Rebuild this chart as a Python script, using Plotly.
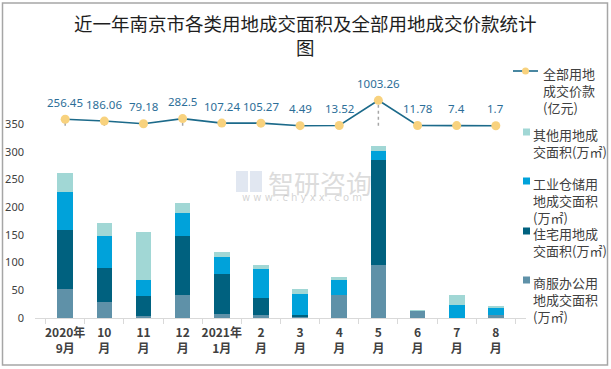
import plotly.graph_objects as go

# ---------------- data ----------------
months = ["2020年<br>9月", "10<br>月", "11<br>月", "12<br>月", "2021年<br>1月", "2<br>月",
          "3<br>月", "4<br>月", "5<br>月", "6<br>月", "7<br>月", "8<br>月"]
commercial = [52, 28.3, 3, 40.9, 6.6, 4.8, 1.8, 41.5, 95.6, 13, 0.5, 4.8]      # 商服办公用地
residential = [106, 61.3, 36, 106.4, 72.2, 30.7, 3.6, 0, 189.4, 0, 0, 0]       # 住宅用地
industrial = [68.5, 57.7, 29, 41.5, 30.7, 52.3, 37.3, 27, 16.2, 0, 23, 15]     # 工业仓储用地
other = [36, 23.5, 86.5, 18, 9, 7.2, 9, 5.4, 9, 1, 18, 2.4]                    # 其他用地
price = [256.45, 186.06, 79.18, 282.5, 107.24, 105.27, 4.49, 13.52, 1003.26, 11.78, 7.4, 1.7]
price_labels = ["256.45", "186.06", "79.18", "282.5", "107.24", "105.27", "4.49", "13.52",
                "1003.26", "11.78", "7.4", "1.7"]
y_ticks = [0, 50, 100, 150, 200, 250, 300, 350]

title_text = "近一年南京市各类用地成交面积及全部用地成交价款统计<br>图"
legend_names = ["全部用地<br>成交价款<br>(亿元)",
                "其他用地成<br>交面积(万㎡)",
                "工业仓储用<br>地成交面积<br>(万㎡)",
                "住宅用地成<br>交面积(万㎡)",
                "商服办公用<br>地成交面积<br>(万㎡)"]

# ---------------- styling ----------------
W, H = 611, 369
ML, MR, MT, MB = 35, 85, 70, 51
PW, PH = W - ML - MR, H - MT - MB
CJK = "Noto Sans CJK SC"

c_com = "#5F91A8"
c_res = "#00617F"
c_ind = "#00A2DA"
c_oth = "#A1D7D5"
c_line = "#1C6A8A"
c_mark = "#F8D27E"
c_lbl = "#2C6E98"
c_txt = "#404040"


def px_x(px):
    return (px - ML) / PW


def px_y(py):
    return (H - MB - py) / PH


fig = go.Figure()

for vals, col, nm in [(commercial, c_com, legend_names[4]),
                      (residential, c_res, legend_names[3]),
                      (industrial, c_ind, legend_names[2]),
                      (other, c_oth, legend_names[1])]:
    fig.add_trace(go.Bar(x=months, y=vals, marker=dict(color=col, line=dict(width=0)),
                         width=0.4, name=nm, showlegend=False, hoverinfo="y"))

# drop lines from each price point
dx, dy = [], []
for m, p in zip(months, price):
    dx += [m, m, None]
    dy += [0, p, None]
fig.add_trace(go.Scatter(x=dx, y=dy, yaxis="y2", mode="lines",
                         line=dict(color="#A6A6A6", width=1.5, dash="dot"),
                         showlegend=False, hoverinfo="skip"))

fig.add_trace(go.Scatter(x=months, y=price, yaxis="y2", mode="lines+markers",
                         line=dict(color=c_line, width=1.6),
                         marker=dict(color=c_mark, size=9, line=dict(width=0)),
                         name=legend_names[0], showlegend=False, cliponaxis=False))

annotations = []
for m, p, t in zip(months, price, price_labels):
    annotations.append(dict(x=m, y=p, xref="x", yref="y2", text=t, showarrow=False,
                            yshift=17, font=dict(family="Noto Sans, " + CJK, size=11.5, color=c_lbl)))

# title
annotations.append(dict(x=px_x(305), y=px_y(35), xref="paper", yref="paper", text=title_text,
                        showarrow=False, xanchor="center", yanchor="middle",
                        font=dict(family=CJK, size=18.5, color="#1E1E1E")))

# watermark
annotations.append(dict(x=px_x(266), y=px_y(182), xref="paper", yref="paper", text="智研咨询",
                        showarrow=False, xanchor="left", yanchor="middle",
                        font=dict(family=CJK, size=26, color="rgba(185,185,185,0.5)")))
annotations.append(dict(x=px_x(302), y=px_y(197), xref="paper", yref="paper",
                        text="w w w . c h y x x . c o m", showarrow=False,
                        xanchor="center", yanchor="middle",
                        font=dict(family="DejaVu Sans", size=10, color="rgba(175,175,175,0.55)")))

shapes = []
# watermark logo blocks
shapes.append(dict(type="rect", xref="paper", yref="paper", x0=px_x(236), x1=px_x(248),
                   y0=px_y(192), y1=px_y(171), fillcolor="rgba(170,185,215,0.35)", line=dict(width=0)))
shapes.append(dict(type="rect", xref="paper", yref="paper", x0=px_x(250), x1=px_x(262),
                   y0=px_y(192), y1=px_y(171), fillcolor="rgba(170,185,215,0.35)", line=dict(width=0)))

# manual legend
leg_font = dict(family=CJK, size=13, color=c_txt)
shapes.append(dict(type="line", xref="paper", yref="paper", x0=px_x(513), x1=px_x(538),
                   y0=px_y(71), y1=px_y(71), line=dict(color=c_line, width=1.6)))
shapes.append(dict(type="circle", xref="paper", yref="paper", x0=px_x(522), x1=px_x(529),
                   y0=px_y(74.5), y1=px_y(67.5), fillcolor=c_mark, line=dict(width=0)))
annotations.append(dict(x=px_x(541), y=px_y(62), xref="paper", yref="paper",
                        text=legend_names[0], showarrow=False, xanchor="left", yanchor="top",
                        align="left", font=leg_font))
for nm, col, yc in [(legend_names[1], c_oth, 132), (legend_names[2], c_ind, 181),
                    (legend_names[3], c_res, 231), (legend_names[4], c_com, 280)]:
    shapes.append(dict(type="rect", xref="paper", yref="paper", x0=px_x(523), x1=px_x(530),
                       y0=px_y(yc + 3.5), y1=px_y(yc - 3.5), fillcolor=col, line=dict(width=0)))
    annotations.append(dict(x=px_x(531), y=px_y(yc - 9), xref="paper", yref="paper",
                            text=nm, showarrow=False, xanchor="left", yanchor="top",
                            align="left", font=leg_font))

# outer border
shapes.append(dict(type="rect", xref="paper", yref="paper", x0=px_x(2.5), x1=px_x(607.5),
                   y0=px_y(365), y1=px_y(3), line=dict(color="#A6A6A6", width=1.5)))

# secondary axis mapping: zero at y=125.8px, 0.0254 px per unit
zero_px_from_bottom = (H - MB) - 125.8
scale2 = 0.0254
y2_range = [-zero_px_from_bottom / scale2, (PH - zero_px_from_bottom) / scale2]

fig.update_layout(
    width=W, height=H,
    margin=dict(l=ML, r=MR, t=MT, b=MB, pad=0, autoexpand=False),
    barmode="stack",
    bargap=0.6,
    plot_bgcolor="white", paper_bgcolor="white",
    showlegend=False,
    xaxis=dict(type="category", showgrid=False, showline=True, linecolor="#D9D9D9", linewidth=1,
               ticks="outside", tickson="boundaries", ticklen=5, tickcolor="#D9D9D9",
               tickangle=0, automargin=False, ticklabelstandoff=4,
               tickfont=dict(family=CJK, size=12, color=c_txt, weight="bold"),
               zeroline=False),
    yaxis=dict(range=[0, PH / 0.5543], tickvals=y_ticks, showgrid=False, zeroline=False,
               showline=False, automargin=False,
               tickfont=dict(family="Noto Sans", size=11, color=c_txt),
               ticklabelstandoff=10),
    yaxis2=dict(range=y2_range, overlaying="y", side="right", visible=False,
                showgrid=False, zeroline=False, automargin=False),
    annotations=annotations,
    shapes=shapes,
)

fig.write_html("out.html", config={"displayModeBar": False},
               post_script="document.body.style.margin='0';document.body.style.padding='0';"
                           "document.body.style.overflow='hidden';")
